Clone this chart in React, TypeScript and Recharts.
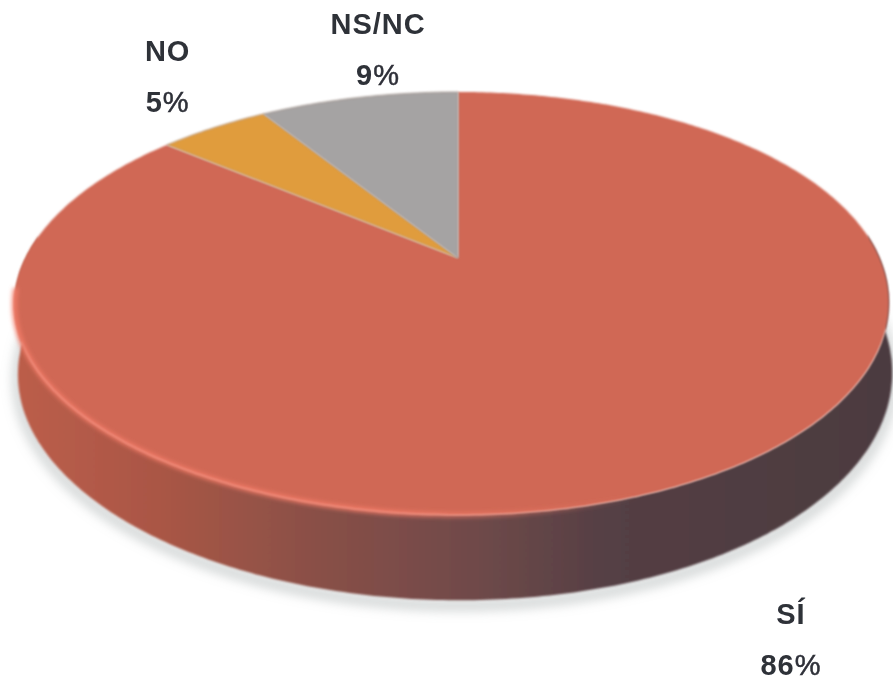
import { PieChart, Pie, Cell } from "recharts";

const labels = ["SÍ", "NO", "NS/NC"];
const shares = [86, 5, 9];
const data = labels.map((name, i) => ({ name, value: shares[i] }));

const COLORS = ["#d06855", "#e09c3c", "#a5a3a3"];
const TEXT = "#2e3038";

// tilted disc: unit circle -> picture, with a bit of perspective
const SX = 427 / 166;
const SY = 201.7 / 166;
const SKEW = -5.5 / 166;
const FRONT_SHIFT = 12 / 166;
const PERSP = 0.215;
const DEPTH = 67 / 166;

const labelNudge: Record<string, [number, number]> = {
  "SÍ": [108, 139],
  NO: [-46, -67],
  "NS/NC": [19, -63],
};

function project(cx: number, cy: number, r: number, deg: number) {
  const a = (deg * Math.PI) / 180;
  const u = Math.cos(a);
  const v = -Math.sin(a);
  const w = 1 - PERSP * v;
  const front = Math.max(0, v);
  return {
    x: cx + (r * (SX * u + SKEW * (v + 1) + FRONT_SHIFT * front * front)) / w,
    y: cy + (r * SY * v) / w,
    v,
    w,
  };
}

function rimPoints(cx: number, cy: number, r: number, start: number, end: number) {
  const steps = Math.max(2, Math.ceil(Math.abs(end - start) * 1.5));
  const pts = [];
  for (let i = 0; i <= steps; i++) {
    pts.push(project(cx, cy, r, start + ((end - start) * i) / steps));
  }
  return pts;
}

const toPath = (pts: { x: number; y: number }[]) =>
  pts.map((p, i) => `${i ? "L" : "M"}${p.x.toFixed(1)} ${p.y.toFixed(1)}`).join(" ");

function DiscSector(props: any) {
  const { cx, cy, outerRadius, startAngle, endAngle, fill } = props;
  const rim = rimPoints(cx, cy, outerRadius, startAngle, endAngle);
  const front = rim.filter((p) => p.v > -0.12);
  const glow = rim.filter((p) => p.v > 0.14 && p.x < 640);
  const depthAt = (w: number) => (outerRadius * DEPTH) / w;

  let wall = null;
  if (front.length > 2) {
    const lower = front
      .map((p) => ({ x: p.x + Math.abs(p.x - cx) * 0.008, y: p.y + depthAt(p.w) }))
      .reverse();
    const wallPath = `${toPath(front)} ${toPath(lower).replace("M", "L")} Z`;
    const shadow = lower.map((p) => ({ x: p.x, y: p.y + 5 }));
    wall = (
      <g>
        <defs>
          <linearGradient id="wallFill" gradientUnits="userSpaceOnUse" x1="14" y1="0" x2="893" y2="0">
            <stop offset="0" stopColor="#bc5e4b" />
            <stop offset="0.17" stopColor="#a95645" />
            <stop offset="0.34" stopColor="#8a5047" />
            <stop offset="0.52" stopColor="#704a49" />
            <stop offset="0.68" stopColor="#543f44" />
            <stop offset="1" stopColor="#4c3b40" />
          </linearGradient>
          <linearGradient id="rimGlow" gradientUnits="userSpaceOnUse" x1="14" y1="0" x2="640" y2="0">
            <stop offset="0" stopColor="#f47c68" stopOpacity="0.9" />
            <stop offset="0.6" stopColor="#f47c68" stopOpacity="0.9" />
            <stop offset="1" stopColor="#f47c68" stopOpacity="0" />
          </linearGradient>
          <filter id="soft6" x="-10%" y="-10%" width="120%" height="120%">
            <feGaussianBlur stdDeviation="6" />
          </filter>
          <filter id="soft2" x="-5%" y="-5%" width="110%" height="110%">
            <feGaussianBlur stdDeviation="2" />
          </filter>
          <filter id="edge" x="-5%" y="-5%" width="110%" height="110%">
            <feGaussianBlur stdDeviation="0.9" />
          </filter>
          <filter id="textSoft" x="-10%" y="-10%" width="120%" height="120%">
            <feGaussianBlur stdDeviation="0.5" />
          </filter>
        </defs>
        <path d={toPath(shadow)} fill="none" stroke="#9aa3a3" strokeOpacity={0.55} strokeWidth={9} filter="url(#soft6)" />
        <path d={wallPath} fill="url(#wallFill)" filter="url(#edge)" />
      </g>
    );
  }

  const face = `M${cx} ${cy} ${toPath(rim).replace("M", "L")} Z`;
  return (
    <g>
      {wall}
      <path d={face} fill={fill} stroke="#9c8a80" strokeOpacity={front.length > 2 ? 0 : 0.7} strokeWidth={1} filter="url(#edge)" />
      {glow.length > 2 && (
        <path d={toPath(glow)} fill="none" stroke="url(#rimGlow)" strokeWidth={5} filter="url(#soft2)" />
      )}
    </g>
  );
}

function SliceLabel(props: any) {
  const { cx, cy, outerRadius, midAngle, name, value } = props;
  const p = project(cx, cy, outerRadius, midAngle);
  const [dx, dy] = labelNudge[name];
  const x = p.x + dx;
  const y = p.y + dy;
  return (
    <text
      x={x}
      y={y}
      textAnchor="middle"
      fill={TEXT}
      fontFamily="'Liberation Sans', Arial, sans-serif"
      fontWeight={700}
      fontSize={29}
      letterSpacing={1}
      filter="url(#textSoft)"
    >
      <tspan x={x}>{name}</tspan>
      <tspan x={x} dy={51}>
        {value}
        <tspan fontWeight={400} stroke={TEXT} strokeWidth={0.5}>%</tspan>
      </tspan>
    </text>
  );
}

export default function App() {
  return (
    <div style={{ position: "absolute", left: 0, top: 0, width: 893, height: 680, background: "#fff", overflow: "hidden" }}>
      <PieChart width={893} height={680} margin={{ top: 0, right: 0, bottom: 0, left: 0 }}>
        <Pie
          data={data}
          dataKey="value"
          nameKey="name"
          cx={458}
          cy={258}
          outerRadius={166}
          startAngle={90}
          endAngle={-270}
          stroke="none"
          isAnimationActive={false}
          shape={DiscSector}
          label={SliceLabel}
          labelLine={false}
          rootTabIndex={-1}
        >
          {data.map((_, i) => (
            <Cell key={i} fill={COLORS[i % COLORS.length]} />
          ))}
        </Pie>
      </PieChart>
    </div>
  );
}
